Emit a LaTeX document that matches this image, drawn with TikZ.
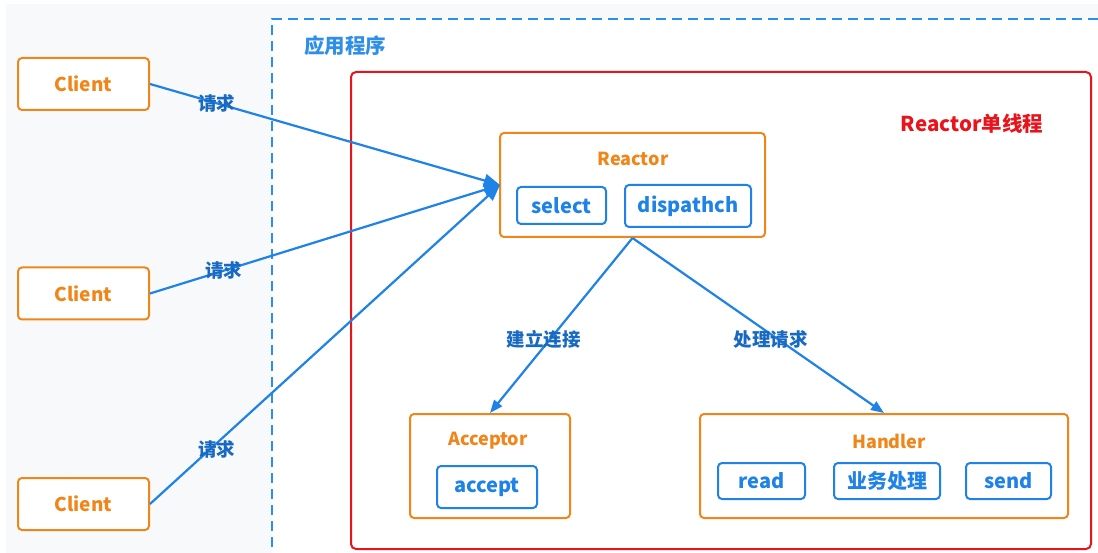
\documentclass[tikz,border=0pt]{standalone}
\usepackage{fontspec}
\setmainfont{Noto Sans CJK SC}
\usetikzlibrary{arrows.meta}
\definecolor{org}{HTML}{F0861A}
\definecolor{blu}{HTML}{1E82E6}
\definecolor{lblu}{HTML}{1769C2}
\definecolor{dblu}{HTML}{2E8FE8}
\definecolor{rd}{HTML}{E8141C}
\definecolor{bg}{HTML}{F8F9FA}
\tikzset{
  obox/.style={draw=org, line width=2pt, rounded corners=4pt, fill=white, inner sep=0pt},
  bbox/.style={draw=blu, line width=2pt, rounded corners=4pt, fill=white, inner sep=0pt, text=blu, font=\bfseries\fontsize{20}{22}\selectfont},
  client/.style={obox, minimum width=131pt, minimum height=52pt, text=org, font=\bfseries\fontsize{19}{22}\selectfont},
  ttl/.style={text=org, font=\bfseries\fontsize{18}{20}\selectfont, inner sep=0pt},
  conn/.style={draw=blu, line width=2.2pt},
  lbl/.style={text=lblu, font=\bfseries\fontsize{18.5}{20}\selectfont, inner sep=0pt},
}
\begin{document}
\begin{tikzpicture}[x=1pt,y=-1pt]
\useasboundingbox (0,0) rectangle (1098,553);
\fill[bg] (6,4) rectangle (1098,553);
\fill[white] (272,19) rectangle (1098,553);
\draw[dblu, line width=2.2pt, dash pattern=on 10pt off 6pt] (1098,19) -- (272,19) -- (272,553);
\node[text=dblu, font=\bfseries\fontsize{20.5}{22}\selectfont, inner sep=0pt] (app) at (345,46) {应用程序};
\draw[rd, line width=2pt, rounded corners=5pt] (351,72) rectangle (1091,549);
\node[text=rd, font=\bfseries\fontsize{20.5}{22}\selectfont, inner sep=0pt] (rtitle) at (972,124) {Reactor单线程};

\node[client] (c1) at (83.5,84) {Client};
\node[client] (c2) at (83.5,293.5) {Client};
\node[client] (c3) at (83.5,504) {Client};

\node[obox, minimum width=265pt, minimum height=104pt] (reactor) at (632.5,185) {};
\node[ttl] (rt) at (633,159) {Reactor};
\node[bbox, minimum width=89pt, minimum height=37pt] (sel) at (561.5,205.5) {select};
\node[bbox, minimum width=126pt, minimum height=42pt] (dis) at (688,206) {dispathch};

\node[obox, minimum width=160pt, minimum height=104pt] (acc) at (490,466) {};
\node[ttl] (at) at (488,441) {Acceptor};
\node[bbox, minimum width=100pt, minimum height=42pt] (accept) at (487,487) {accept};

\node[obox, minimum width=368pt, minimum height=104pt] (hdl) at (884,466) {};
\node[ttl] (ht) at (889,441) {Handler};
\node[bbox, minimum width=87pt, minimum height=36pt] (read) at (761.5,481) {read};
\node[bbox, minimum width=106pt, minimum height=36pt] (biz) at (887,481) {业务处理};
\node[bbox, minimum width=85pt, minimum height=36pt] (send) at (1008.5,481) {send};

\coordinate (rin) at (500,185);
\draw[conn, -{Triangle[length=16pt,width=13pt]}] (c1.east) -- (rin) node[lbl, pos=0.19] {请求};
\draw[conn, -{Triangle[length=16pt,width=13pt]}] (c2.east) -- (rin) node[lbl, pos=0.21] {请求};
\draw[conn, -{Triangle[length=16pt,width=13pt]}] (c3.east) -- (rin) node[lbl, pos=0.19, yshift=-6pt] {请求};

\draw[conn, -{Triangle[length=13pt,width=10pt]}] (reactor.south) -- (acc.north) node[lbl, pos=0.58, xshift=-6pt] {建立连接};
\draw[conn, -{Triangle[length=13pt,width=10pt]}] (reactor.south) -- (hdl.north) node[lbl, pos=0.55, yshift=-5pt] {处理请求};
\end{tikzpicture}
\end{document}
